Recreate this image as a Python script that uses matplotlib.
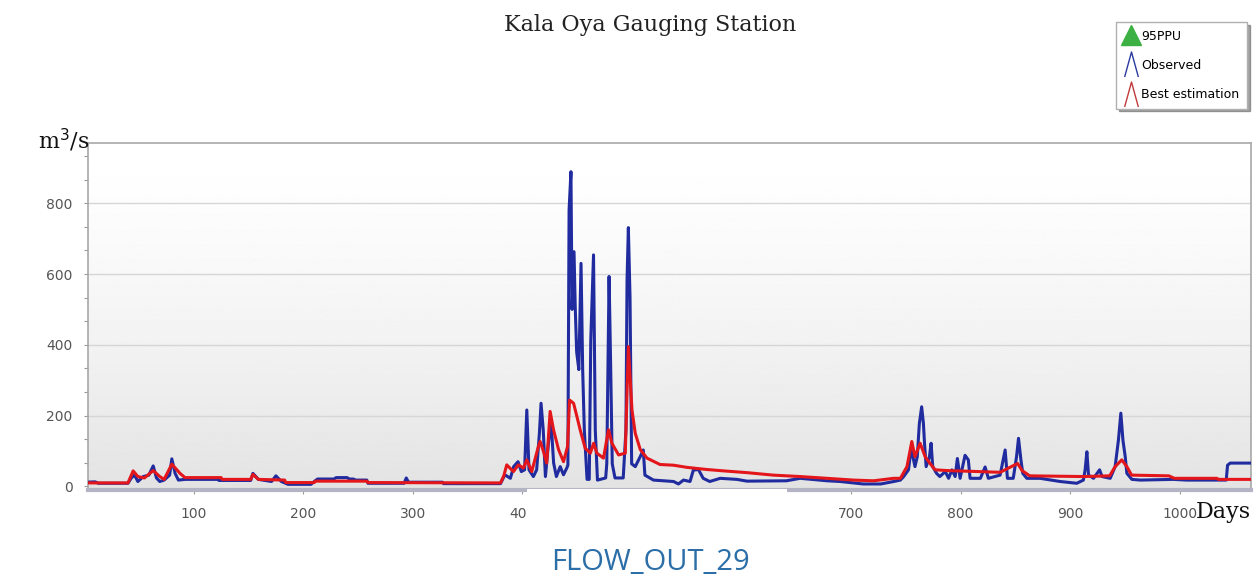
import numpy as np
import matplotlib
matplotlib.use("Agg")
from matplotlib import pyplot as plt
from matplotlib.lines import Line2D
from matplotlib.path import Path
from matplotlib.patches import Rectangle

# Observed flow (day, m3/s)
obs_day = [1, 10, 13, 40, 43, 46, 49, 54, 59, 63, 66, 69, 73, 78, 80, 83, 86, 92,
           122, 123, 152, 154, 159, 171, 175, 180, 186, 207, 210, 213, 228, 230,
           240, 242, 246, 247, 258, 259, 292, 294, 296, 327, 328, 380, 384, 389,
           392, 396, 399, 402, 404, 406, 410, 413, 415.5, 417, 419, 421, 423.5,
           426, 428.5, 431, 434.5, 437.5, 440.5, 441.5, 442.6, 444.3, 445.3,
           447.1, 448.2, 449.5, 451.5, 453.5, 455, 456.5, 459, 461, 462.4, 464.9,
           466.5, 468.5, 476, 477, 479.1, 480.5, 482, 484.5, 492, 494.5, 495.5,
           496.7, 498.2, 499.7, 503, 507.5, 510.3, 511.8, 519.6, 538, 542.4, 547,
           553, 556, 560.6, 565, 571, 580.5, 595.7, 605, 641, 653.5, 678, 690,
           711, 727, 739, 745, 748, 752.4, 754.8, 758.3, 760.4, 762.3, 764.4, 766,
           767, 768.5, 771.5, 773, 774.5, 778, 781, 786, 789, 792, 795, 797,
           799.5, 804, 807, 808.6, 818, 822.3, 825.3, 836, 840.6, 842.7, 848, 851,
           852.8, 855, 856.7, 860.4, 872.5, 890.8, 906, 912, 913.6, 915.2, 916.7,
           921.3, 926.8, 929, 936.5, 941, 944, 946.2, 948.1, 950.2, 951.7, 956.3,
           964, 994, 1006, 1042.4, 1043.6, 1046, 1065]
obs_val = [12, 13, 9, 9, 24, 32, 14, 28, 32, 58, 24, 14, 18, 32, 78, 37, 18, 20,
           20, 17, 17, 37, 20, 14, 30, 14, 6, 6, 14, 21, 21, 25,
           25, 21, 21, 18, 18, 9, 9, 24, 12, 12, 8, 8, 33, 23,
           56, 70, 42, 47, 216, 47, 28, 47, 150, 235, 160, 28, 113,
           190, 66, 28, 56, 33, 52, 60, 781, 889, 500,
           663, 508, 380, 330, 630, 330, 160, 20, 20, 414, 654,
           160, 18, 24, 64, 593, 348, 64, 24, 24, 160, 583,
           731, 536, 64, 56, 84, 103, 32, 18, 14, 7, 18,
           14, 46, 48, 23, 14, 23, 20, 15, 16, 23, 16, 14,
           7, 7, 14, 18, 28, 47, 108, 56, 84, 178, 225, 178,
           122, 56, 84, 122, 56, 37, 28, 42, 23, 47, 28, 79,
           23, 88, 75, 23, 23, 55, 23, 32, 103, 23, 23, 84,
           136, 75, 37, 23, 23, 14, 9, 18, 47, 98, 32,
           23, 47, 28, 23, 56, 131, 207, 131, 84, 37, 20,
           18, 20, 18, 18, 60, 66, 66]

# Best estimation (simulated) flow
sim_day = [1, 40, 44.7, 49, 55, 63, 69, 73, 80, 87.5, 92, 125, 126, 152, 154, 159,
           183, 184, 210, 211, 258, 259, 380, 383, 385.7, 391.8, 396.3, 401, 404,
           408.5, 414.6, 416.2, 419.2, 422.2, 425.3, 428.4, 433, 437.5, 441.2, 443,
           446.7, 449.7, 452.7, 457.3, 462, 465, 468, 474, 478.6, 481.7, 487.8,
           493.9, 496.7, 500, 503, 507.6, 513.7, 525.6, 538, 550, 568, 583.5, 605,
           629, 653.5, 678, 702, 720.5, 738.8, 745, 751, 755.4, 758.3, 763, 767.6,
           772, 776.7, 787, 836, 852, 856, 863, 912, 936, 941, 947, 951.7, 956,
           990, 995, 1034, 1035, 1065]
sim_val = [10, 10, 44, 28, 24, 45, 28, 20, 63, 37, 25, 25, 20, 20, 34, 20,
           18, 11, 11, 15, 15, 11, 10, 30, 61, 42, 61, 52, 75,
           42, 113, 127, 99, 66, 212, 160, 104, 70, 113, 244,
           235, 198, 160, 108, 94, 122, 94, 80, 160, 122, 89,
           94, 395, 216, 150, 104, 80, 62, 60, 54, 48, 44, 39,
           32, 28, 23, 18, 16, 23, 23, 56, 127, 84, 122, 84,
           65, 47, 45, 40, 65, 45, 30, 28, 30, 56, 75, 56, 32,
           30, 23, 23, 20, 20]

x_ticks = [100, 200, 300, 400, 500, 600, 700, 800, 900, 1000]
y_ticks = [0, 200, 400, 600, 800]

W, H = 1259, 588
tick_font = ['Liberation Sans Narrow', 'DejaVu Sans']

fig = plt.figure(figsize=(W / 100, H / 100), dpi=100)
ax = fig.add_axes([88 / W, 1 - 490 / H, (1251 - 88) / W, (490 - 143) / H])
ax.set_xlim(3.5, 1065)
ax.set_ylim(-10, 970)

# soft gray gradient in the plot area (darker towards the bottom)
t = np.linspace(0, 1, 256).reshape(-1, 1)
grad = 1.0 - 0.11 * (1 - t) ** 1.4
ax.imshow(grad, cmap='gray', vmin=0, vmax=1, aspect='auto', origin='lower',
          extent=[0, 1, 0, 1], transform=ax.transAxes, zorder=0)

for y in y_ticks[1:]:
    ax.axhline(y, color='#d6d6d6', lw=1.0, zorder=1)

ax.plot(obs_day, obs_val, color='#1f2b9e', lw=2.2, zorder=3)
ax.plot(sim_day, sim_val, color='#e3161b', lw=2.2, zorder=4)

ax.set_xticks(x_ticks)
ax.set_yticks(y_ticks)
ax.yaxis.set_minor_locator(matplotlib.ticker.AutoMinorLocator(3))
ax.tick_params(axis='both', which='both', colors='#9a9a9a', labelcolor='#555555',
               length=3, width=0.8, labelsize=10)
ax.tick_params(axis='x', pad=9)
ax.tick_params(axis='y', pad=8)
for lab in ax.get_xticklabels() + ax.get_yticklabels():
    lab.set_family(tick_font)

for s in ['top', 'left', 'right']:
    ax.spines[s].set_color('#a8a8a8')
    ax.spines[s].set_linewidth(1.2)
ax.spines['bottom'].set_color('#b4b4c4')
ax.spines['bottom'].set_linewidth(3)

# white patch that hides part of the x axis in the original figure
fig.patches.append(Rectangle((527 / W, 1 - 536 / H), (787 - 527) / W, (536 - 489) / H,
                             transform=fig.transFigure, facecolor='white',
                             edgecolor='none', zorder=10))

fig.text(650 / W, 1 - 25 / H, 'Kala Oya Gauging Station', ha='center', va='center',
         family='DejaVu Serif', fontsize=16, color='#222222')
fig.text(38 / W, 1 - 140 / H, 'm$^3$/s', ha='left', va='center',
         family='DejaVu Serif', fontsize=16, color='#111111')
fig.text(1196 / W, 1 - 512 / H, 'Days', ha='left', va='center',
         family='DejaVu Serif', fontsize=16, color='#111111')
fig.text(650 / W, 1 - 562 / H, 'FLOW_OUT_29', ha='center', va='center',
         family=['Open Sans', 'DejaVu Sans'], fontsize=21, color='#2b6ea8')

caret = Path([(-0.55, -1), (0, 1), (0.55, -1)], [Path.MOVETO, Path.LINETO, Path.LINETO])
handles = [
    Line2D([], [], ls='none', marker='^', ms=15, mfc='#3cb043', mec='#3cb043'),
    Line2D([], [], ls='none', marker=caret, ms=18, mfc='none', mec='#2a3a9e', mew=1),
    Line2D([], [], ls='none', marker=caret, ms=18, mfc='none', mec='#c0393b', mew=1),
]
leg = fig.legend(handles, ['95PPU', 'Observed', 'Best estimation'],
                 loc='upper right', bbox_to_anchor=(1247 / W, 1 - 22 / H),
                 frameon=True, fancybox=False, shadow=True, handlelength=1.1,
                 handletextpad=0.3, borderpad=0.6, labelspacing=1.3,
                 borderaxespad=0, prop={'family': tick_font, 'size': 9})
leg.get_frame().set_edgecolor('#b0b0b0')

fig.savefig('out.png', dpi=100)
